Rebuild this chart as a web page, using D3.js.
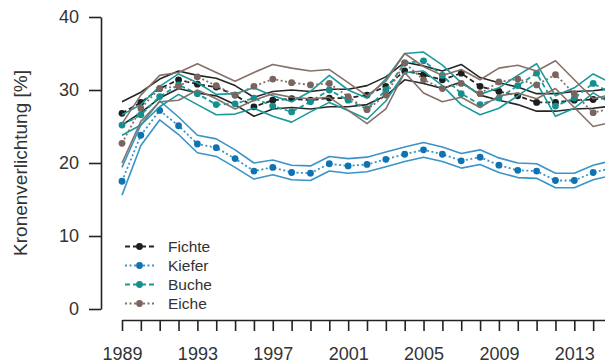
<!DOCTYPE html>
<html>
<head>
<meta charset="utf-8">
<script src="https://cdnjs.cloudflare.com/ajax/libs/d3/7.8.5/d3.min.js"></script>
<style>
  body { margin: 0; background: #fff; }
  svg { display: block; font-family: "Liberation Sans", Arial, sans-serif; }
</style>
</head>
<body>
<svg></svg>
<script>
const years = d3.range(1989, 2016);
const yTicks = [0, 10, 20, 30, 40];
const xLabels = [1989, 1993, 1997, 2001, 2005, 2009, 2013];
const species = ['Fichte', 'Kiefer', 'Buche', 'Eiche'];

// mean and confidence band per species, 1989-2015
const fichte = [26.8, 28.3, 30.2, 31.4, 30.8, 30.4, 29.3, 27.7, 28.6, 28.8, 28.6, 28.9, 28.9, 29.3, 30.5, 32.6, 32.1, 31.4, 32.3, 30.5, 29.8, 29.2, 28.3, 28.3, 28.6, 28.7, 29.0];
const fichteHi = [28.4, 29.7, 31.5, 32.6, 32.0, 31.6, 30.6, 29.0, 29.8, 30.0, 29.8, 30.1, 30.1, 30.6, 31.8, 33.8, 33.3, 32.6, 33.5, 31.7, 31.0, 30.4, 29.5, 29.5, 29.8, 29.9, 30.2];
const fichteLo = [25.2, 26.9, 28.9, 30.2, 29.6, 29.2, 28.0, 26.4, 27.4, 27.6, 27.4, 27.7, 27.7, 28.0, 29.2, 31.4, 30.9, 30.2, 31.1, 29.3, 28.6, 28.0, 27.1, 27.1, 27.4, 27.5, 27.8];

const kiefer = [17.5, 23.8, 27.2, 25.1, 22.6, 22.1, 20.6, 18.9, 19.4, 18.7, 18.6, 19.9, 19.6, 19.8, 20.5, 21.2, 21.8, 21.2, 20.3, 20.8, 19.7, 19.0, 18.9, 17.6, 17.6, 18.7, 19.3];
const kieferHi = [19.4, 25.2, 28.5, 26.3, 23.8, 23.3, 21.8, 20.0, 20.4, 19.7, 19.6, 20.9, 20.6, 20.8, 21.5, 22.2, 22.8, 22.2, 21.3, 21.8, 20.7, 20.0, 19.9, 18.6, 18.6, 19.7, 20.3];
const kieferLo = [15.6, 22.4, 25.9, 23.9, 21.4, 20.9, 19.4, 17.8, 18.4, 17.7, 17.6, 18.9, 18.6, 18.8, 19.5, 20.2, 20.8, 20.2, 19.3, 19.8, 18.7, 18.0, 17.9, 16.6, 16.6, 17.7, 18.3];

const buche = [25.2, 26.6, 29.1, 30.7, 29.5, 28.0, 28.1, 28.9, 27.8, 27.0, 28.4, 30.0, 28.6, 27.4, 30.0, 33.7, 34.0, 32.0, 29.5, 28.0, 28.9, 30.6, 32.3, 27.8, 28.9, 30.9, 29.5];
const bucheHi = [26.6, 28.0, 30.5, 32.2, 31.0, 29.4, 29.5, 30.3, 29.2, 28.4, 29.8, 32.0, 30.0, 28.9, 31.5, 35.0, 35.2, 33.4, 31.0, 29.4, 30.3, 32.0, 33.6, 29.2, 30.3, 32.2, 30.9];
const bucheLo = [23.8, 25.2, 27.7, 29.4, 28.0, 26.6, 26.7, 27.5, 26.4, 25.6, 27.0, 28.3, 27.2, 26.0, 28.5, 32.4, 32.6, 30.6, 28.0, 26.6, 27.5, 29.2, 31.0, 26.4, 27.5, 29.6, 28.1];

const eiche = [22.7, 27.5, 30.2, 30.5, 31.8, 30.6, 29.3, 30.5, 31.5, 31.0, 30.7, 30.9, 29.1, 27.3, 29.3, 33.7, 31.4, 30.2, 30.9, 29.5, 31.1, 31.5, 30.7, 32.1, 29.5, 26.9, 27.5];
const eicheHi = [25.4, 29.3, 32.0, 32.4, 33.6, 32.4, 31.2, 32.4, 33.5, 33.0, 32.6, 32.8, 31.0, 29.2, 31.2, 35.0, 33.2, 32.0, 32.8, 31.4, 33.0, 33.4, 32.6, 34.0, 31.4, 28.8, 29.4];
const eicheLo = [20.0, 25.7, 28.4, 28.6, 30.0, 28.8, 27.4, 28.6, 29.5, 29.0, 28.8, 29.0, 27.2, 25.4, 27.4, 32.4, 29.6, 28.4, 29.0, 27.6, 29.2, 29.6, 28.8, 30.2, 27.6, 25.0, 25.6];

const width = 605;
const height = 364;

const series = [
  { name: 'Fichte', mean: fichte, hi: fichteHi, lo: fichteLo, color: '#262626', dot: '#1e1e1e', dash: '5,3' },
  { name: 'Kiefer', mean: kiefer, hi: kieferHi, lo: kieferLo, color: '#3a93c9', dot: '#0f73b3', dash: '2,2.5' },
  { name: 'Buche', mean: buche, hi: bucheHi, lo: bucheLo, color: '#1b9a9a', dot: '#138f8f', dash: '5,3' },
  { name: 'Eiche', mean: eiche, hi: eicheHi, lo: eicheLo, color: '#857169', dot: '#79655d', dash: '2,2.5' }
];

const svg = d3.select('svg')
  .attr('width', width)
  .attr('height', height);

const x = d3.scaleLinear()
  .domain([1989, 2015])
  .range([122, 612]);

const y = d3.scaleLinear()
  .domain([0, 40])
  .range([309, 17]);

const line = d3.line()
  .x((d) => x(d[0]))
  .y((d) => y(d[1]));

// bands and means
series.forEach((s) => {
  const g = svg.append('g');
  [s.hi, s.lo].forEach((arr) => {
    g.append('path')
      .datum(years.map((yr, i) => [yr, arr[i]]))
      .attr('d', line)
      .attr('fill', 'none')
      .attr('stroke', s.color)
      .attr('stroke-width', 1.6)
      .attr('stroke-linejoin', 'round');
  });
  const pts = years.map((yr, i) => [yr, s.mean[i]]);
  g.append('path')
    .datum(pts)
    .attr('d', line)
    .attr('fill', 'none')
    .attr('stroke', s.color)
    .attr('stroke-width', 1.8)
    .attr('stroke-dasharray', s.dash);
  g.selectAll('circle')
    .data(pts)
    .enter()
    .append('circle')
    .attr('cx', (d) => x(d[0]))
    .attr('cy', (d) => y(d[1]))
    .attr('r', 3.4)
    .attr('fill', s.dot);
});

// axes
const yAxis = d3.axisLeft(y)
  .tickValues(yTicks)
  .tickSize(12)
  .tickSizeOuter(0)
  .tickPadding(10);

svg.append('g')
  .attr('transform', 'translate(101, 0)')
  .call(yAxis);

const xAxis = d3.axisBottom(x)
  .tickValues(years)
  .tickSize(11)
  .tickSizeOuter(0)
  .tickPadding(16)
  .tickFormat((d) => xLabels.includes(d) ? d : '');

svg.append('g')
  .attr('transform', 'translate(0, 320)')
  .call(xAxis);

svg.selectAll('.tick text')
  .attr('font-size', 18)
  .attr('fill', '#333')
  .attr('font-family', '"Liberation Sans", Arial, sans-serif');
svg.selectAll('.domain, .tick line')
  .attr('stroke', '#222')
  .attr('stroke-width', 1.6);

svg.append('text')
  .attr('transform', 'translate(27, 163) rotate(-90)')
  .attr('text-anchor', 'middle')
  .attr('font-size', 19)
  .attr('fill', '#333')
  .text('Kronenverlichtung [%]');

// legend
const legend = svg.append('g');
series.forEach((s, i) => {
  const ly = 246.5 + i * 19;
  legend.append('line')
    .attr('x1', 125).attr('x2', 155)
    .attr('y1', ly).attr('y2', ly)
    .attr('stroke', s.color)
    .attr('stroke-width', 1.8)
    .attr('stroke-dasharray', s.dash);
  legend.append('circle')
    .attr('cx', 139.5).attr('cy', ly)
    .attr('r', 3.4)
    .attr('fill', s.dot);
  legend.append('text')
    .attr('x', 168)
    .attr('y', ly + 5.5)
    .attr('font-size', 15.5)
    .attr('fill', '#333')
    .text(species[i]);
});
</script>
</body>
</html>
